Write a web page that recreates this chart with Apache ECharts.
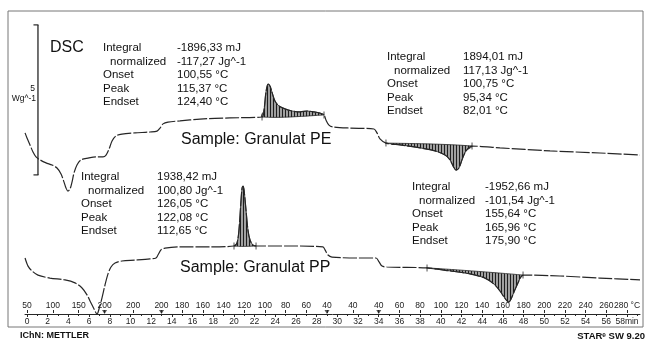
<!DOCTYPE html>
<html>
<head>
<meta charset="utf-8">
<script src="https://cdn.jsdelivr.net/npm/echarts@6/dist/echarts.min.js"></script>
<style>
    html, body { margin: 0; padding: 0; background: #fff; }
    #chart { width: 649px; height: 341px; }
</style>
</head>
<body>
<div id="chart"></div>
<script>
// time (min) and heat flow (W/g, both curves on one shifted scale)
const peTime = [-0.19, 0, 0.29, 0.58, 0.87, 1.26, 1.84, 2.42, 2.90, 3.29, 3.58, 3.77, 3.96, 4.16, 4.35, 4.54, 4.83, 5.22, 5.90, 6.67,
    7.35, 7.64, 7.93, 8.22, 8.60, 9.18, 10.44, 11.89, 12.57, 12.86, 13.15, 13.63, 14.79, 16.72, 19.62, 22.72, 22.91, 23.10, 23.30, 23.49,
    23.68, 23.97, 24.36, 24.94, 25.62, 26.39, 27.07, 27.74, 28.32, 28.71, 28.90, 29.19, 29.58, 31.22, 33.54, 33.83, 34.12, 34.70, 36.06, 38.00,
    39.44, 40.41, 40.89, 41.18, 41.47, 41.76, 42.05, 42.44, 43.02, 45.72, 50.56, 55.39, 59.26];
const peFlow = [6.47, 6.30, 6.07, 5.83, 5.67, 5.57, 5.47, 5.40, 5.30, 5.10, 4.83, 4.63, 4.53, 4.60, 4.83, 5.13, 5.40, 5.57, 5.63, 5.67,
    5.67, 5.73, 5.93, 6.20, 6.37, 6.43, 6.47, 6.50, 6.53, 6.63, 6.77, 6.83, 6.87, 6.93, 6.97, 7.00, 7.23, 7.83, 8.10, 8.03,
    7.83, 7.53, 7.37, 7.27, 7.20, 7.17, 7.20, 7.17, 7.13, 7.07, 6.90, 6.73, 6.67, 6.63, 6.60, 6.47, 6.27, 6.13, 6.07, 5.97,
    5.87, 5.73, 5.57, 5.37, 5.23, 5.30, 5.57, 5.87, 6.03, 5.97, 5.87, 5.80, 5.73];

const ppTime = [-0.19, 0.10, 0.48, 1.06, 2.22, 3.67, 4.64, 5.32, 5.80, 6.19, 6.48, 6.77, 6.96, 7.25, 7.54, 7.83, 8.12, 8.51, 9.18, 10.44,
    11.89, 12.47, 12.66, 12.95, 13.34, 14.79, 17.69, 20.01, 20.30, 20.49, 20.69, 20.79, 20.88, 20.98, 21.17, 21.36, 21.56, 21.85, 22.14, 25.42,
    28.61, 28.81, 29.10, 29.48, 32.19, 33.74, 34.03, 34.32, 34.80, 38.67, 40.89, 42.82, 44.27, 45.14, 45.72, 46.11, 46.40, 46.59, 46.79, 47.08,
    47.46, 47.75, 47.95, 51.52, 55.39, 59.26];
const ppFlow = [2.30, 2.03, 1.87, 1.73, 1.63, 1.57, 1.47, 1.30, 1.07, 0.80, 0.60, 0.43, 0.60, 0.97, 1.40, 1.77, 2.00, 2.13, 2.20, 2.23,
    2.27, 2.30, 2.40, 2.57, 2.63, 2.67, 2.67, 2.70, 2.80, 3.23, 4.23, 4.63, 4.70, 4.57, 3.90, 3.23, 2.90, 2.73, 2.70, 2.70,
    2.67, 2.57, 2.40, 2.33, 2.30, 2.30, 2.17, 2.03, 2.00, 1.97, 1.87, 1.77, 1.63, 1.43, 1.20, 1.00, 0.87, 0.83, 0.93, 1.17,
    1.47, 1.67, 1.73, 1.70, 1.63, 1.57];

// integration limits (min)
const peCoolLimits = [22.72, 28.71];
const peHeatLimits = [34.70, 43.02];
const ppCoolLimits = [20.01, 22.14];
const ppHeatLimits = [38.67, 47.95];

// scale bar: 5 W/g
const scaleBarTime = 1.06;
const scaleBarFrom = 5.07;
const scaleBarLength = 5;

// time axis
const minuteTicks = [0, 2, 4, 6, 8, 10, 12, 14, 16, 18, 20, 22, 24, 26, 28, 30, 32, 34, 36, 38, 40, 42, 44, 46, 48, 50, 52, 54, 56, 58];
const oddMinuteTicks = [1, 3, 5, 7, 9, 11, 13, 15, 17, 19, 21, 23, 25, 27, 29, 31, 33, 35, 37, 39, 41, 43, 45, 47, 49, 51, 53, 55, 57, 59];
// temperature programme labels
const tempTimes = [0, 2.5, 5, 7.5, 10.25, 13, 15, 17, 19, 21, 23, 25, 27, 29, 31.5, 34, 36, 38, 40, 42, 44, 46, 48, 50, 52, 54, 56, 58];
const tempLabels = ['50', '100', '150', '200', '200', '200', '180', '160', '140', '120', '100', '80', '60', '40', '40', '40',
    '60', '80', '100', '120', '140', '160', '180', '200', '220', '240', '260', '280 °C'];
const segmentEnds = [7.5, 13, 29, 34];

// evaluation tables
const rowNames = ['Integral', 'normalized', 'Onset', 'Peak', 'Endset'];
const peHeatValues = ['-1896,33 mJ', '-117,27 Jg^-1', '100,55 °C', '115,37 °C', '124,40 °C'];
const peCoolValues = ['1894,01 mJ', '117,13 Jg^-1', '100,75 °C', '95,34 °C', '82,01 °C'];
const ppCoolValues = ['1938,42 mJ', '100,80 Jg^-1', '126,05 °C', '122,08 °C', '112,65 °C'];
const ppHeatValues = ['-1952,66 mJ', '-101,54 Jg^-1', '155,64 °C', '165,96 °C', '175,90 °C'];

const FONT = '"Liberation Sans", Arial, sans-serif';
const LINE = '#262626';

const hatch = document.createElement('canvas');
hatch.width = 3;
hatch.height = 4;
const hctx = hatch.getContext('2d');
hctx.fillStyle = '#a0a0a0';
hctx.fillRect(0, 0, 3, 4);
hctx.fillStyle = '#1e1e1e';
hctx.fillRect(0, 0, 1, 4);
const hatchPattern = { image: hatch, repeat: 'repeat' };

function zip(a, b) {
    return a.map((v, i) => [v, b[i]]);
}

function curveSeries(times, flows) {
    return {
        type: 'line',
        xAxisIndex: 0,
        yAxisIndex: 0,
        data: zip(times, flows),
        showSymbol: false,
        smooth: 0.3,
        z: 3,
        lineStyle: { color: LINE, width: 1.2, type: [14, 2] },
    };
}

function shadeSeries(times, flows, limits) {
    const pts = zip(times, flows).filter((p) => p[0] >= limits[0] && p[0] <= limits[1]);
    return {
        type: 'custom',
        xAxisIndex: 0,
        yAxisIndex: 0,
        silent: true,
        z: 2,
        data: pts,
        renderItem: (params, api) => {
            if (params.dataIndex !== 0) return null;
            return {
                type: 'polygon',
                shape: { points: pts.map((p) => api.coord(p)), smooth: 0.3 },
                style: { fill: hatchPattern, stroke: LINE, lineWidth: 0.8 },
            };
        },
    };
}

function limitPoints(times, flows, limits) {
    return limits.map((t) => [t, flows[times.indexOf(t)]]);
}

function textBlock(labelX, valueX, topY, values) {
    const items = [];
    rowNames.forEach((name, i) => {
        const y = topY + i * 13.5;
        items.push({
            type: 'text', x: labelX + (i === 1 ? 7 : 0), y: y,
            style: { text: name, font: '11.5px ' + FONT, fill: '#111', textVerticalAlign: 'middle' },
        });
        items.push({
            type: 'text', x: valueX, y: y,
            style: { text: values[i], font: '11.5px ' + FONT, fill: '#111', textVerticalAlign: 'middle' },
        });
    });
    return items;
}

const chart = echarts.init(document.getElementById('chart'));

const option = {
    animation: false,
    backgroundColor: '#fff',
    grid: [
        { left: 8, right: 6, top: 11, bottom: 14, show: true, borderColor: '#777', borderWidth: 1, backgroundColor: 'transparent' },
        { left: 25, right: 9, top: 313, height: 1 },
    ],
    xAxis: [
        { gridIndex: 0, type: 'value', min: -1.837, max: 59.547, show: false },
        {
            gridIndex: 1, type: 'value', min: -0.193, max: 59.257, position: 'bottom',
            axisLine: { show: true, lineStyle: { color: LINE, width: 1 } },
            axisTick: { show: true, length: 3, customValues: minuteTicks, lineStyle: { color: LINE } },
            axisLabel: {
                customValues: minuteTicks, margin: 3, fontSize: 8.5, fontFamily: FONT, color: '#222',
                hideOverlap: false, showMinLabel: true, showMaxLabel: true,
                formatter: (v) => (v === 58 ? '58min' : String(v)),
            },
            splitLine: { show: false },
        },
        {
            gridIndex: 1, type: 'value', min: -0.193, max: 59.257, position: 'top',
            axisLine: { show: false },
            axisTick: { show: true, length: 3, customValues: tempTimes, lineStyle: { color: LINE } },
            axisLabel: {
                customValues: tempTimes, margin: 3, fontSize: 8.5, fontFamily: FONT, color: '#222',
                hideOverlap: false, showMinLabel: true, showMaxLabel: true,
                formatter: (v) => tempLabels[tempTimes.indexOf(v)],
            },
            splitLine: { show: false },
        },
        {
            gridIndex: 1, type: 'value', min: -0.193, max: 59.257, position: 'bottom',
            axisLine: { show: false },
            axisTick: { show: true, length: 2, customValues: oddMinuteTicks, lineStyle: { color: LINE } },
            axisLabel: { show: false },
            splitLine: { show: false },
        },
    ],
    yAxis: [
        { gridIndex: 0, type: 'value', min: 0, max: 10.533, show: false },
        { gridIndex: 1, type: 'value', min: 0, max: 1, show: false },
    ],
    series: [
        shadeSeries(peTime, peFlow, peCoolLimits),
        shadeSeries(peTime, peFlow, peHeatLimits),
        shadeSeries(ppTime, ppFlow, ppCoolLimits),
        shadeSeries(ppTime, ppFlow, ppHeatLimits),
        curveSeries(peTime, peFlow),
        curveSeries(ppTime, ppFlow),
        {
            // limit marks on the curves
            type: 'scatter', xAxisIndex: 0, yAxisIndex: 0, z: 4, silent: true,
            symbol: 'rect', symbolSize: [1, 7],
            itemStyle: { color: LINE },
            data: [].concat(
                limitPoints(peTime, peFlow, peCoolLimits),
                limitPoints(peTime, peFlow, peHeatLimits),
                limitPoints(ppTime, ppFlow, ppCoolLimits),
                limitPoints(ppTime, ppFlow, ppHeatLimits)
            ),
        },
        {
            // 5 W/g scale bar
            type: 'line', xAxisIndex: 0, yAxisIndex: 0, z: 3, silent: true,
            data: [[scaleBarTime, scaleBarFrom], [scaleBarTime, scaleBarFrom + scaleBarLength]],
            symbol: 'rect', symbolSize: [5, 1.2], symbolOffset: [-2, 0], showSymbol: true,
            itemStyle: { color: LINE },
            lineStyle: { color: LINE, width: 1.3 },
        },
        {
            // segment marks on the time axis
            type: 'scatter', xAxisIndex: 1, yAxisIndex: 1, z: 4, silent: true,
            symbol: 'triangle', symbolRotate: 180, symbolSize: [5, 4], symbolOffset: [0, -1],
            itemStyle: { color: LINE },
            data: segmentEnds.map((t) => [t, 1]),
        },
    ],
    graphic: [
        { type: 'text', x: 50, y: 48, style: { text: 'DSC', font: '16px ' + FONT, fill: '#111', textVerticalAlign: 'middle' } },
        { type: 'text', x: 35, y: 89, style: { text: '5', font: '8.5px ' + FONT, fill: '#111', textAlign: 'right', textVerticalAlign: 'middle' } },
        { type: 'text', x: 36, y: 99, style: { text: 'Wg^-1', font: '8.5px ' + FONT, fill: '#111', textAlign: 'right', textVerticalAlign: 'middle' } },
        { type: 'text', x: 181, y: 140, style: { text: 'Sample: Granulat PE', font: '16px ' + FONT, fill: '#111', textVerticalAlign: 'middle' } },
        { type: 'text', x: 180, y: 268, style: { text: 'Sample: Granulat PP', font: '16px ' + FONT, fill: '#111', textVerticalAlign: 'middle' } },
        { type: 'text', x: 20, y: 336, style: { text: 'IChN: METTLER', font: 'bold 9px ' + FONT, fill: '#111', textVerticalAlign: 'middle' } },
        { type: 'text', x: 645, y: 336, style: { text: 'STARᵉ SW 9.20', font: 'bold 9.5px ' + FONT, fill: '#111', textAlign: 'right', textVerticalAlign: 'middle' } },
        ...textBlock(103, 177, 48, peHeatValues),
        ...textBlock(387, 463, 57, peCoolValues),
        ...textBlock(81, 157, 177, ppCoolValues),
        ...textBlock(412, 485, 187, ppHeatValues),
    ],
};

chart.setOption(option);
</script>
</body>
</html>
